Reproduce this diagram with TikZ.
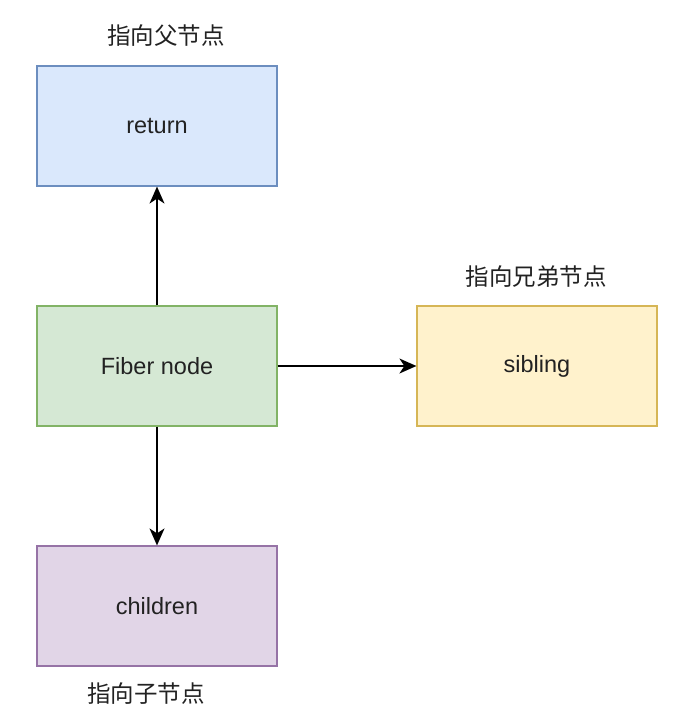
\documentclass[tikz,border=0pt]{standalone}
\usepackage{fontspec}
\setmainfont{Liberation Sans}
\newfontfamily\cjk{Noto Sans CJK SC}
\usetikzlibrary{arrows.meta}
\definecolor{bluefill}{HTML}{DAE8FC}\definecolor{bluedraw}{HTML}{6C8EBF}
\definecolor{greenfill}{HTML}{D5E8D4}\definecolor{greendraw}{HTML}{82B366}
\definecolor{yellowfill}{HTML}{FFF2CC}\definecolor{yellowdraw}{HTML}{D6B656}
\definecolor{purplefill}{HTML}{E1D5E7}\definecolor{purpledraw}{HTML}{9673A6}
\definecolor{txt}{HTML}{222222}
\tikzset{
  box/.style={rectangle, minimum width=240pt, minimum height=120pt, line width=1.2pt, inner sep=0pt, text=txt, font=\fontsize{23.5}{28}\selectfont},
  lbl/.style={text=txt, font=\cjk\fontsize{23.5}{28}\selectfont, inner sep=0pt},
  conn/.style={line width=1.6pt, -{Stealth[length=17pt,width=15pt,inset=5pt]}, black}
}
\begin{document}
\begin{tikzpicture}[x=1pt,y=-1pt]
\useasboundingbox (0,0) rectangle (688,712);
\fill[white] (0,0) rectangle (688,712);
\node[box, fill=bluefill, draw=bluedraw] (ret) at (157,126) {return};
\node[box, fill=greenfill, draw=greendraw] (fib) at (157,366) {Fiber node};
\node[box, fill=yellowfill, draw=yellowdraw] (sib) at (537,366) {sibling};
\node[box, fill=purplefill, draw=purpledraw] (chi) at (157,606) {children};
\node[lbl] (lret) at (166,36) {指向父节点};
\node[lbl] (lsib) at (536,277) {指向兄弟节点};
\node[lbl] (lchi) at (146,694) {指向子节点};
\draw[conn] (fib.north) -- (ret.south);
\draw[conn] (fib.east) -- (sib.west);
\draw[conn] (fib.south) -- (chi.north);
\end{tikzpicture}
\end{document}
